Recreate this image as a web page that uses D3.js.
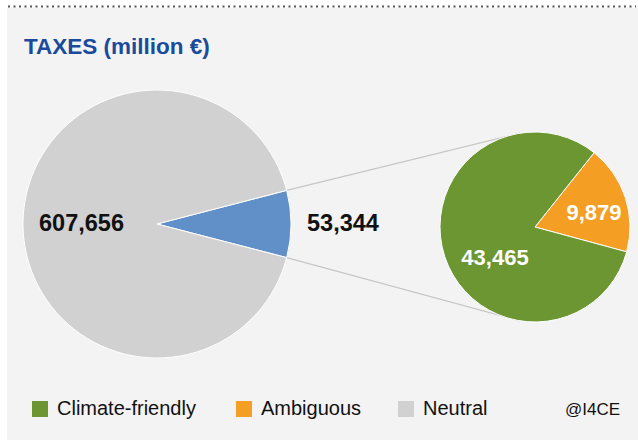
<!DOCTYPE html>
<html>
<head>
<meta charset="utf-8">
<script src="https://cdn.jsdelivr.net/npm/d3@7"></script>
<style>
  html, body { margin: 0; padding: 0; background: #ffffff; }
  svg { display: block; }
  text { font-family: "Liberation Sans", Arial, Helvetica, sans-serif; }
</style>
</head>
<body>
<script>
// ---- data ----
const mainLabels = ["Climate & ambiguous", "Neutral"];
const mainValues = [53344, 607656];
const subLabels = ["Ambiguous", "Climate-friendly"];
const subValues = [9879, 43465];
const legendLabels = ["Climate-friendly", "Ambiguous", "Neutral"];
const legendColors = ["#6b9631", "#f49e24", "#d0d1d0"];
const title = "TAXES (million €)";
const source = "@I4CE";

const W = 638, H = 441;
const svg = d3.select("body").append("svg").attr("width", W).attr("height", H);

// panel
svg.append("rect").attr("x", 7).attr("y", 8).attr("width", W - 7).attr("height", 432).attr("fill", "#f3f3f3");
svg.append("line").attr("x1", 8).attr("x2", 636).attr("y1", 6.5).attr("y2", 6.5)
  .attr("stroke", "#555").attr("stroke-width", 2).attr("stroke-dasharray", "2,3.5");

// title
svg.append("text").attr("x", 24).attr("y", 54).text(title)
  .attr("font-size", 22.5).attr("font-weight", "bold").attr("fill", "#1a4a9c");

const fmt = d3.format(",");
const deg = Math.PI / 180;

// big pie
const big = { cx: 157, cy: 224, r: 134 };
const blueAngle = mainValues[0] / d3.sum(mainValues) * 2 * Math.PI;
const bigPie = d3.pie().sort(null).startAngle(Math.PI / 2 - blueAngle / 2).endAngle(Math.PI / 2 - blueAngle / 2 + 2 * Math.PI);
const bigArcs = bigPie(mainValues);
const bigArc = d3.arc().innerRadius(0).outerRadius(big.r);
const bigColors = ["#6190c9", "#d0d1d0"];

// small pie
const small = { cx: 535, cy: 227, r: 95 };
const smallStart = 38.5 * deg;
const smallPie = d3.pie().sort(null).startAngle(smallStart).endAngle(smallStart + 2 * Math.PI);
const smallArcs = smallPie(subValues);
const smallArc = d3.arc().innerRadius(0).outerRadius(small.r);
const smallColors = ["#f49e24", "#6b9631"];

// connector lines
const pt = (c, r, a) => [c.cx + r * Math.sin(a), c.cy - r * Math.cos(a)];
const b0 = pt(big, big.r, bigArcs[0].startAngle);
const b1 = pt(big, big.r, bigArcs[0].endAngle);
const s0 = pt(small, small.r, -9 * deg);
const s1 = pt(small, small.r, 189 * deg);
[[b0, s0], [b1, s1]].forEach(([a, b]) => {
  svg.append("line").attr("x1", a[0]).attr("y1", a[1]).attr("x2", b[0]).attr("y2", b[1])
    .attr("stroke", "#c6c6c6").attr("stroke-width", 1.2);
});

const gBig = svg.append("g").attr("transform", `translate(${big.cx},${big.cy})`);
gBig.selectAll("path").data(bigArcs).join("path")
  .attr("d", bigArc).attr("fill", (d, i) => bigColors[i])
  .attr("stroke", "#ffffff").attr("stroke-width", 1);

const gSmall = svg.append("g").attr("transform", `translate(${small.cx},${small.cy})`);
gSmall.selectAll("path").data(smallArcs).join("path")
  .attr("d", smallArc).attr("fill", (d, i) => smallColors[i])
  .attr("stroke", "#ffffff").attr("stroke-width", 1);

// labels
svg.append("text").attr("x", 81.5).attr("y", 231).attr("text-anchor", "middle")
  .attr("font-size", 23.5).attr("font-weight", "bold").attr("fill", "#111").text(fmt(mainValues[1]));
svg.append("text").attr("x", 343).attr("y", 231).attr("text-anchor", "middle")
  .attr("font-size", 23.5).attr("font-weight", "bold").attr("fill", "#111").text(fmt(mainValues[0]));
svg.append("text").attr("x", 594).attr("y", 220).attr("text-anchor", "middle")
  .attr("font-size", 22).attr("font-weight", "bold").attr("fill", "#fff").text(fmt(subValues[0]));
svg.append("text").attr("x", 495).attr("y", 265).attr("text-anchor", "middle")
  .attr("font-size", 22).attr("font-weight", "bold").attr("fill", "#fff").text(fmt(subValues[1]));

// legend
const legX = [32, 236, 398];
legendLabels.forEach((l, i) => {
  svg.append("rect").attr("x", legX[i]).attr("y", 401).attr("width", 16).attr("height", 16).attr("fill", legendColors[i]);
  svg.append("text").attr("x", legX[i] + 25).attr("y", 415).attr("font-size", 20).attr("fill", "#111").text(l);
});
svg.append("text").attr("x", 565).attr("y", 415).attr("font-size", 17).attr("fill", "#111").text(source);
</script>
</body>
</html>
